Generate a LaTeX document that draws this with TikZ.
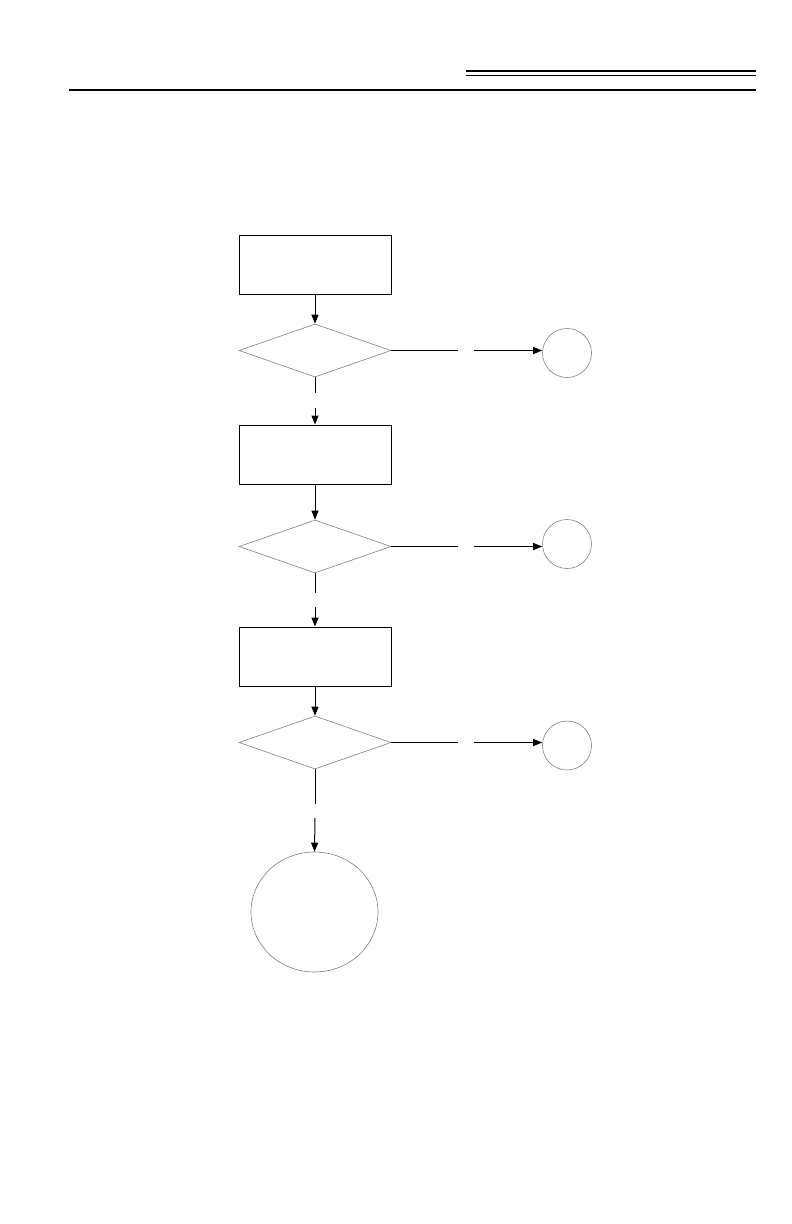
\documentclass[tikz,border=0pt]{standalone}
\usepackage{tikz}
\usetikzlibrary{shapes.geometric,arrows.meta}

\begin{document}
\begin{tikzpicture}[x=1pt,y=-1pt,>={Triangle[length=9pt,width=7pt]},
  stepbox/.style={draw,line width=1pt,minimum width=152pt,minimum height=59pt,inner sep=0pt},
  test/.style={diamond,draw=gray,line width=0.6pt,minimum width=152pt,minimum height=53pt,inner sep=0pt},
  endpt/.style={circle,draw=gray,line width=0.6pt,minimum size=49pt,inner sep=0pt},
  flow/.style={line width=1pt}]
  \useasboundingbox (0,0) rectangle (792,1224);
  % page header rules
  \draw[line width=1.4pt] (466,71) -- (756,71);
  \draw[line width=1.4pt] (466,75.5) -- (756,75.5);
  \draw[line width=1.2pt] (69,90) -- (756,90);

  \node[stepbox] (box1) at (315,264.5) {};
  \node[test] (dec1) at (315,350.5) {};
  \node[endpt] (out1) at (567,353) {};
  \node[stepbox] (box2) at (315,454.5) {};
  \node[test] (dec2) at (315,546.5) {};
  \node[endpt] (out2) at (567,544) {};
  \node[stepbox] (box3) at (315,656.5) {};
  \node[test] (dec3) at (315,742.5) {};
  \node[endpt] (out3) at (567,745.5) {};
  \node[ellipse,draw=gray,line width=0.6pt,minimum width=127pt,minimum height=120pt,inner sep=0pt] (finish) at (314.5,912) {};

  % broken connectors
  \coordinate (d1a) at (315,393);  \coordinate (d1b) at (315,408);
  \coordinate (d2a) at (315,593);  \coordinate (d2b) at (315,607);
  \coordinate (d3a) at (315,804);  \coordinate (d3b) at (315,818);
  \coordinate (r1a) at (458,350.5); \coordinate (r1b) at (474,350.5);
  \coordinate (r2a) at (458,546.5); \coordinate (r2b) at (474,546.5);
  \coordinate (r3a) at (458,742.5); \coordinate (r3b) at (474,742.5);

  \draw[flow,->] (box1) -- (dec1);
  \draw[flow] (dec1.south) -- (d1a);
  \draw[flow,->] (d1b) -- (box2.north);
  \draw[flow] (dec1.east) -- (r1a);
  \draw[flow,->] (r1b) -- (r1b -| out1.west);

  \draw[flow,->] (box2) -- (dec2);
  \draw[flow] (dec2.south) -- (d2a);
  \draw[flow,->] (d2b) -- (box3.north);
  \draw[flow] (dec2.east) -- (r2a);
  \draw[flow,->] (r2b) -- (r2b -| out2.west);

  \draw[flow,->] (box3) -- (dec3);
  \draw[flow] (dec3.south) -- (d3a);
  \draw[flow,->] (d3b) -- (finish.north);
  \draw[flow] (dec3.east) -- (r3a);
  \draw[flow,->] (r3b) -- (r3b -| out3.west);
\end{tikzpicture}
\end{document}
